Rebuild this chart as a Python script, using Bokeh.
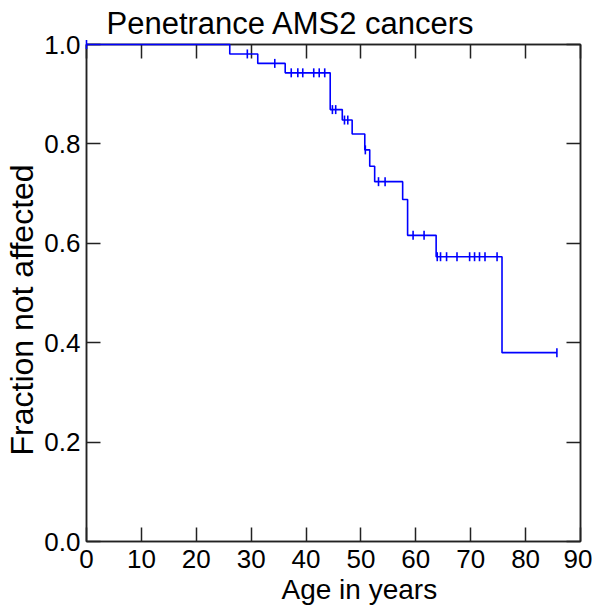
import numpy as np
from bokeh.plotting import figure
from bokeh.models import Range1d, FixedTicker, PrintfTickFormatter, LinearAxis, Title
from bokeh.embed import file_html
from bokeh.resources import INLINE

# Kaplan-Meier curve
event_ages = [26.1, 31.2, 36.2, 44.4, 46.6, 48.4, 50.7, 51.6, 52.5, 57.6, 58.5, 63.7, 75.7]
survival = [1.0, 0.981, 0.962, 0.943, 0.869, 0.848, 0.820, 0.788, 0.755, 0.724, 0.688, 0.616, 0.573, 0.380]
end_age = 85.7
censored_ages = [0.0, 29.3, 34.3, 37.3, 38.5, 39.4, 41.4, 42.4, 43.4, 44.8, 45.4, 47.0, 47.6,
                 50.8, 53.2, 54.4, 59.5, 61.5, 63.9, 64.5, 65.6, 67.5, 69.8, 70.7, 71.6,
                 72.6, 74.8, 85.7]
x_ticks = [0, 10, 20, 30, 40, 50, 60, 70, 80, 90]
y_ticks = [0.0, 0.2, 0.4, 0.6, 0.8, 1.0]
title_text = "Penetrance AMS2 cancers"
x_label = "Age in years"
y_label = "Fraction not affected"

step_x = [0.0] + event_ages + [end_age]
step_y = survival + [survival[-1]]
idx = np.searchsorted(np.array(event_ages), np.array(censored_ages), side="right")
cens_y = [survival[i] for i in idx]

FONT = "Liberation Sans"
AX = "#222222"

p = figure(width=592, height=605, output_backend="svg", toolbar_location=None,
           x_range=Range1d(0, 90), y_range=Range1d(0, 1),
           min_border_left=86, min_border_right=12, min_border_top=43, min_border_bottom=64)
p.grid.visible = False
p.outline_line_color = AX
p.outline_line_width = 1.5
p.background_fill_color = "white"
p.border_fill_color = "white"

for ax in [p.xaxis[0], p.yaxis[0]]:
    ax.axis_line_color = AX
    ax.axis_line_width = 1.5
    ax.major_tick_line_color = AX
    ax.major_tick_line_width = 1.5
    ax.major_tick_in = 14
    ax.major_tick_out = 0
    ax.minor_tick_line_color = None
    ax.major_label_text_font = FONT
    ax.major_label_text_font_size = "26px"
    ax.major_label_text_color = "black"

p.xaxis[0].ticker = FixedTicker(ticks=x_ticks)
p.yaxis[0].ticker = FixedTicker(ticks=y_ticks)
p.yaxis[0].formatter = PrintfTickFormatter(format="%.1f")
p.xaxis[0].major_label_standoff = 8
p.yaxis[0].major_label_standoff = 6

top = LinearAxis(ticker=FixedTicker(ticks=x_ticks))
right = LinearAxis(ticker=FixedTicker(ticks=y_ticks))
for ax in [top, right]:
    ax.axis_line_color = AX
    ax.axis_line_width = 1.5
    ax.major_tick_line_color = AX
    ax.major_tick_line_width = 1.5
    ax.major_tick_in = 14
    ax.major_tick_out = 0
    ax.minor_tick_line_color = None
    ax.major_label_text_font_size = "1px"
    ax.major_label_text_color = None
    ax.major_label_standoff = 0
p.add_layout(top, "above")
p.add_layout(right, "right")

r_step = p.step(step_x, step_y, mode="after", line_color="#0000FF", line_width=1.6)
r_cens = p.scatter(censored_ages, cens_y, marker="dash", angle=np.pi / 2, size=9,
                   line_color="#0000FF", line_width=1.6)
r_step.level = "overlay"
r_cens.level = "overlay"

p.title.text = title_text
p.title.text_font = FONT
p.title.text_font_size = "31px"
p.title.text_font_style = "normal"
p.title.text_color = "black"
p.title.align = "left"
p.title.offset = 20
p.title.standoff = 7

p.add_layout(Title(text=x_label, text_font=FONT, text_font_size="28px",
                   text_font_style="normal", text_color="black",
                   align="left", offset=195, standoff=2), "below")
p.add_layout(Title(text=y_label, text_font=FONT, text_font_size="32px",
                   text_font_style="normal", text_color="black",
                   align="left", offset=86, standoff=3), "left")

open("out.html", "w").write(file_html(p, INLINE))
